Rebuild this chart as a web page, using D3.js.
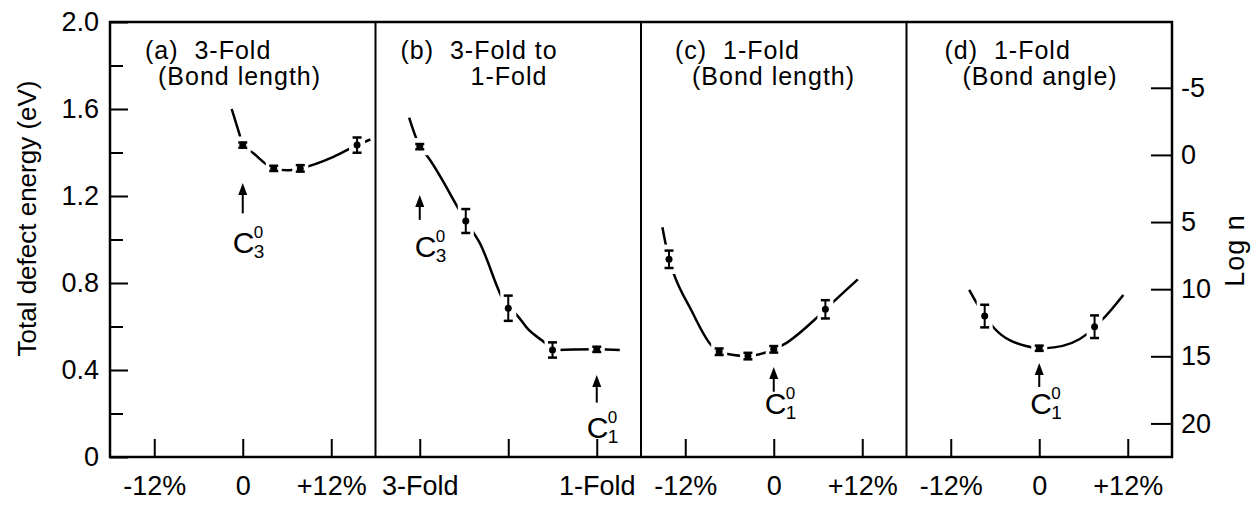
<!DOCTYPE html>
<html>
<head>
<meta charset="utf-8">
<script src="https://cdnjs.cloudflare.com/ajax/libs/d3/7.8.5/d3.min.js"></script>
<style>
body { margin: 0; background: white; }
</style>
</head>
<body>
<div id="chart"></div>
<script>

var panelIds = ["a", "b", "c", "d"];
var panelTitleTop = ["(a)  3-Fold", "(b)  3-Fold to", "(c)  1-Fold", "(d)  1-Fold"];
var panelTitleBottom = ["(Bond length)", "1-Fold", "(Bond length)", "(Bond angle)"];

var energyTicks = [0, 0.4, 0.8, 1.2, 1.6, 2.0];
var energyTickLabels = ["0", "0.4", "0.8", "1.2", "1.6", "2.0"];
var energyMinorTicks = [0.2, 0.6, 1.0, 1.4, 1.8];

var logNTicks = [-5, 0, 5, 10, 15, 20];
var logNAtZeroEnergy = 22.5;
var logNPerEV = 16.2;

var strainTicks = [-12, 0, 12];
var strainTickLabels = ["-12%", "0", "+12%"];
var foldTicks = [0, 0.5, 1];
var foldTickLabels = ["3-Fold", "", "1-Fold"];

// (a) 3-fold, bond length
var aStrain = [0, 4.2, 7.8, 15.5];
var aEnergy = [1.434, 1.327, 1.327, 1.434];
var aError = [0.012, 0.012, 0.015, 0.035];
var aCurveStrain = [-1.5, -0.5, 0, 1.4, 3.3, 4.2, 6, 7.8, 12.3, 15.5, 17.3];
var aCurveEnergy = [1.60, 1.49, 1.434, 1.398, 1.343, 1.327, 1.318, 1.327, 1.38, 1.434, 1.46];

// (b) 3-fold -> 1-fold
var bCoord = [0, 0.26, 0.5, 0.75, 1.0];
var bEnergy = [1.427, 1.085, 0.684, 0.492, 0.495];
var bError = [0.012, 0.055, 0.058, 0.035, 0.012];
var bCurveCoord = [-0.06, 0, 0.045, 0.26, 0.335, 0.5, 0.54, 0.616, 0.71, 0.75, 0.87, 1.0, 1.13];
var bCurveEnergy = [1.56, 1.427, 1.38, 1.085, 0.99, 0.684, 0.66, 0.584, 0.523, 0.492, 0.494, 0.495, 0.492];

// (c) 1-fold, bond length
var cStrain = [-14.2, -7.4, -3.5, 0, 7.0];
var cEnergy = [0.909, 0.484, 0.464, 0.495, 0.679];
var cError = [0.04, 0.015, 0.015, 0.015, 0.042];
var cCurveStrain = [-15.1, -14.2, -13.5, -11.2, -8.5, -7.4, -3.5, 0, 1.5, 5.5, 7.0, 11.4];
var cCurveEnergy = [1.056, 0.909, 0.837, 0.676, 0.515, 0.484, 0.464, 0.495, 0.52, 0.63, 0.679, 0.817];

// (d) 1-fold, bond angle
var dStrain = [-7.4, 0, 7.5];
var dEnergy = [0.648, 0.50, 0.599];
var dError = [0.052, 0.012, 0.052];
var dCurveStrain = [-9.5, -7.4, -6.1, -1.8, 0, 2, 6.5, 7.5, 8.5, 11.4];
var dCurveEnergy = [0.768, 0.648, 0.592, 0.51, 0.50, 0.504, 0.566, 0.599, 0.63, 0.745];

// C labels with arrows
var notePanel = ["a", "b", "b", "c", "d"];
var notePosition = [0, 0, 1, 0, 0];
var noteSubscript = ["3", "3", "1", "1", "1"];


var config = {
    full_width: 1256,
    full_height: 506,
    margin: {top: 22, right: 84, bottom: 49, left: 110},
    font: "'Liberation Sans', Arial, sans-serif",
    strainDomain: [-18, 18],
    foldDomain: [-0.25, 1.25],
    titleDx: [[35, 48], [25, 95], [34, 51], [38, 56]],
    titleY: [59, 85],
    // tip, tail and label baseline in energy units, label shift in px
    noteLayout: [
        {tip: 1.26, tail: 1.12, label: 0.94, dx: -10},
        {tip: 1.205, tail: 1.09, label: 0.92, dx: -5},
        {tip: 0.377, tail: 0.25, label: 0.087, dx: -10},
        {tip: 0.414, tail: 0.30, label: 0.198, dx: -9},
        {tip: 0.432, tail: 0.322, label: 0.198, dx: -9}
    ]
};


DefectChart = function(container){

    var self = this;

    this.container = container;
    this.config = config;

    this.panels = [
        {id: "a", kind: "strain", x: aStrain, e: aEnergy, err: aError, cx: aCurveStrain, ce: aCurveEnergy},
        {id: "b", kind: "fold", x: bCoord, e: bEnergy, err: bError, cx: bCurveCoord, ce: bCurveEnergy},
        {id: "c", kind: "strain", x: cStrain, e: cEnergy, err: cError, cx: cCurveStrain, ce: cCurveEnergy},
        {id: "d", kind: "strain", x: dStrain, e: dEnergy, err: dError, cx: dCurveStrain, ce: dCurveEnergy}
    ];

    this._init();

};

DefectChart.prototype._init = function(){

    this._build_graph();
    this._draw_frame();
    this._draw_energy_axis();
    this._draw_logn_axis();
    this._draw_panels();
    this._draw_notes();

};

DefectChart.prototype._build_graph = function(){

    var config = this.config;

    this.width = config.full_width - config.margin.left - config.margin.right;
    this.height = config.full_height - config.margin.top - config.margin.bottom;

    this._svg = d3.select(this.container)
        .append("svg")
        .attr("width", config.full_width)
        .attr("height", config.full_height)
        .style("display", "block")
        .style("background", "white");

    this._chart = this._svg
        .append("g")
        .attr("transform", "translate(" + config.margin.left + "," + config.margin.top + ")");

    this.y = d3.scaleLinear().domain([0, 2]).range([this.height, 0]);

    this.logN = d3.scaleLinear()
        .domain([logNAtZeroEnergy, logNAtZeroEnergy - 2 * logNPerEV])
        .range([this.height, 0]);

    this.band = d3.scaleBand().domain(panelIds).range([0, this.width]).padding(0);

};

DefectChart.prototype._draw_frame = function(){

    var self = this;

    this._chart.append("rect")
        .attr("x", 0)
        .attr("y", 0)
        .attr("width", this.width)
        .attr("height", this.height)
        .style("fill", "none")
        .style("stroke", "black")
        .style("stroke-width", 2.5);

    this._chart.selectAll(".divider")
        .data(panelIds.slice(1))
        .enter()
        .append("line")
        .attr("class", "divider")
        .attr("x1", function(d){ return self.band(d); })
        .attr("x2", function(d){ return self.band(d); })
        .attr("y1", 0)
        .attr("y2", this.height)
        .style("stroke", "black")
        .style("stroke-width", 2);

};

DefectChart.prototype._style_axis = function(g, size){

    g.select(".domain").remove();
    g.selectAll(".tick line").style("stroke", "black").style("stroke-width", 2);
    g.selectAll("text")
        .attr("font-family", this.config.font)
        .attr("font-size", size)
        .style("fill", "black");

};

DefectChart.prototype._draw_energy_axis = function(){

    var self = this;

    var major = this._chart.append("g")
        .call(d3.axisLeft(this.y)
            .tickValues(energyTicks)
            .tickFormat(function(d, i){ return energyTickLabels[i]; })
            .tickSize(-18)
            .tickPadding(11));
    this._style_axis(major, 27);

    var minor = this._chart.append("g")
        .call(d3.axisLeft(this.y)
            .tickValues(energyMinorTicks)
            .tickFormat("")
            .tickSize(-13));
    this._style_axis(minor, 27);

    this._chart.append("text")
        .attr("transform", "translate(" + (36 - this.config.margin.left) + "," + (this.height / 2 - 21) + ") rotate(-90)")
        .attr("text-anchor", "middle")
        .attr("font-family", this.config.font)
        .attr("font-size", 26)
        .text("Total defect energy (eV)");

};

DefectChart.prototype._draw_logn_axis = function(){

    var axis = this._chart.append("g")
        .attr("transform", "translate(" + this.width + ",0)")
        .call(d3.axisRight(this.logN)
            .tickValues(logNTicks)
            .tickFormat(function(d){ return d; })
            .tickSize(-21)
            .tickPadding(9));
    this._style_axis(axis, 27);

    this._chart.append("text")
        .attr("transform", "translate(" + (this.width + 72) + "," + (this.height / 2 + 11) + ") rotate(-90)")
        .attr("text-anchor", "middle")
        .attr("font-family", this.config.font)
        .attr("font-size", 27)
        .attr("letter-spacing", 1)
        .text("Log n");

};

DefectChart.prototype._panel_scale = function(p){

    var domain = p.kind == "fold" ? this.config.foldDomain : this.config.strainDomain;
    var left = this.band(p.id);
    return d3.scaleLinear().domain(domain).range([left, left + this.band.bandwidth()]);

};

DefectChart.prototype._draw_panels = function(){

    var self = this;

    this.panels.forEach(function(p, i){
        self._draw_panel(p, i);
    });

};

DefectChart.prototype._draw_panel = function(p, i){

    var self = this;
    var config = this.config;
    var x = this._panel_scale(p);
    var y = this.y;
    var g = this._chart.append("g").attr("class", "panel-" + p.id);

    // bottom axis
    var ticks = p.kind == "fold" ? foldTicks : strainTicks;
    var labels = p.kind == "fold" ? foldTickLabels : strainTickLabels;
    var axis = g.append("g")
        .attr("transform", "translate(0," + this.height + ")")
        .call(d3.axisBottom(x)
            .tickValues(ticks)
            .tickFormat(function(d, k){ return labels[k]; })
            .tickSize(-18)
            .tickPadding(19));
    this._style_axis(axis, 27);

    // title
    var left = this.band(p.id);
    [panelTitleTop[i], panelTitleBottom[i]].forEach(function(str, k){
        g.append("text")
            .attr("x", left + config.titleDx[i][k])
            .attr("y", config.titleY[k] - config.margin.top)
            .attr("font-family", config.font)
            .attr("font-size", 25)
            .attr("letter-spacing", 1)
            .style("white-space", "pre")
            .text(str);
    });

    // fitted curve
    var curve = p.cx.map(function(v, k){ return [v, p.ce[k]]; });
    var line = d3.line()
        .x(function(d){ return x(d[0]); })
        .y(function(d){ return y(d[1]); })
        .curve(d3.curveMonotoneX);

    g.append("path")
        .datum(curve)
        .attr("d", line)
        .style("fill", "none")
        .style("stroke", "black")
        .style("stroke-width", 2.5);

    var pts = p.x.map(function(v, k){ return {x: v, e: p.e[k], err: p.err[k]}; });

    // gaps in the curve around each point
    g.selectAll(".halo")
        .data(pts)
        .enter()
        .append("rect")
        .attr("class", "halo")
        .attr("x", function(d){ return x(d.x) - 8; })
        .attr("y", function(d){ return y(d.e + d.err) - 6; })
        .attr("width", 16)
        .attr("height", function(d){ return y(d.e - d.err) - y(d.e + d.err) + 12; })
        .style("fill", "white");

    var marks = g.selectAll(".mark")
        .data(pts)
        .enter()
        .append("g")
        .attr("class", "mark");

    marks.append("line")
        .attr("x1", function(d){ return x(d.x); })
        .attr("x2", function(d){ return x(d.x); })
        .attr("y1", function(d){ return y(d.e + d.err); })
        .attr("y2", function(d){ return y(d.e - d.err); })
        .style("stroke", "black")
        .style("stroke-width", 2);

    [1, -1].forEach(function(s){
        marks.append("line")
            .attr("x1", function(d){ return x(d.x) - 4.5; })
            .attr("x2", function(d){ return x(d.x) + 4.5; })
            .attr("y1", function(d){ return y(d.e + s * d.err); })
            .attr("y2", function(d){ return y(d.e + s * d.err); })
            .style("stroke", "black")
            .style("stroke-width", 2.5);
    });

    marks.append("circle")
        .attr("cx", function(d){ return x(d.x); })
        .attr("cy", function(d){ return y(d.e); })
        .attr("r", 3.5)
        .style("fill", "black");

};

DefectChart.prototype._draw_notes = function(){

    var self = this;
    var config = this.config;
    var y = this.y;

    notePanel.forEach(function(id, i){

        var p = self.panels[panelIds.indexOf(id)];
        var x = self._panel_scale(p);
        var lay = config.noteLayout[i];
        var ax = x(notePosition[i]);
        var tip = y(lay.tip);

        self._chart.append("line")
            .attr("x1", ax)
            .attr("x2", ax)
            .attr("y1", y(lay.tail))
            .attr("y2", tip + 8)
            .style("stroke", "black")
            .style("stroke-width", 2);

        self._chart.append("path")
            .attr("d", "M" + ax + "," + tip + "L" + (ax - 4.5) + "," + (tip + 12) + "L" + (ax + 4.5) + "," + (tip + 12) + "Z")
            .style("fill", "black");

        var lx = ax + lay.dx;
        var ly = y(lay.label);

        self._chart.append("text")
            .attr("x", lx)
            .attr("y", ly)
            .attr("font-family", config.font)
            .attr("font-size", 30)
            .text("C");

        self._chart.append("text")
            .attr("x", lx + 21)
            .attr("y", ly - 15)
            .attr("font-family", config.font)
            .attr("font-size", 17)
            .text("0");

        self._chart.append("text")
            .attr("x", lx + 21)
            .attr("y", ly + 5)
            .attr("font-family", config.font)
            .attr("font-size", 19)
            .text(noteSubscript[i]);

    });

};


var chart = new DefectChart("#chart");

</script>
</body>
</html>
